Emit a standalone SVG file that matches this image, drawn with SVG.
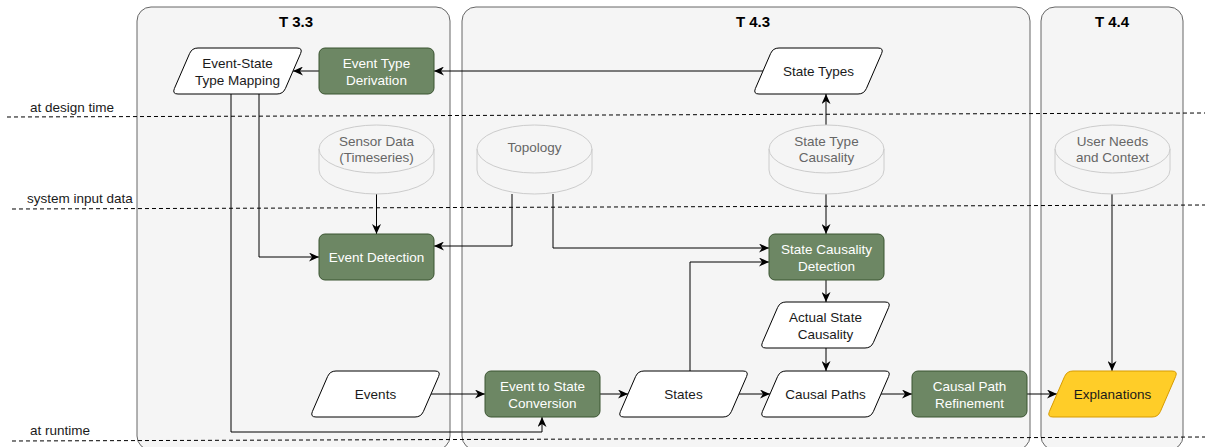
<svg xmlns="http://www.w3.org/2000/svg" xmlns:xlink="http://www.w3.org/1999/xlink" width="1205" height="447" viewBox="0 0 1205 447">
<style>
text{font-family:"Liberation Sans",Arial,sans-serif;font-size:13.5px;text-anchor:middle;fill:#1a1a1a}
.title{font-size:15px;font-weight:bold;fill:#000}
.lbl{text-anchor:start;fill:#1a1a1a}
.cont{fill:#f5f5f5;stroke:#666;stroke-width:1}
.dash{stroke:#000;stroke-width:1;stroke-dasharray:4 3;fill:none}
.proc{fill:#6d8764;stroke:#3a5431;stroke-width:1}
.proc-t{fill:#fff}
.data{fill:#fff;stroke:#000;stroke-width:1}
.yel{fill:#ffcd28;stroke:#d79b00;stroke-width:1}
.cyl{fill:#f5f5f5;stroke:#cccccc;stroke-width:1}
.cyl-t{fill:#666}
.edge{fill:none;stroke:#000;stroke-width:1}
</style>
<defs>
<marker id="arr" markerUnits="userSpaceOnUse" markerWidth="11" markerHeight="9" refX="10" refY="4.5" orient="auto">
<path d="M0,0 L10,4.5 L0,9 L3,4.5 Z" fill="#000"/>
</marker>
<path id="para" d="M26,0 L125,0 Q131,0 128.6,5.5 L113.4,40.5 Q111,46 105,46 L6,46 Q0,46 2.4,40.5 L17.6,5.5 Q20,0 26,0 Z"/>
<path id="cylb" d="M0,24 A57.5,24 0 0 1 115,24 L115,45 A57.5,24 0 0 1 0,45 Z"/>
<path id="cyli" d="M0,24 A57.5,24 0 0 0 115,24" fill="none"/>
</defs>

<g id="containers">
<rect id="t33" class="cont" x="137" y="7" width="313" height="443" rx="14"/>
<rect id="t43" class="cont" x="462" y="7" width="568" height="443" rx="14"/>
<rect id="t44" class="cont" x="1041" y="7" width="142" height="443" rx="14"/>
<text class="title" x="296" y="27">T 3.3</text>
<text class="title" x="753" y="27">T 4.3</text>
<text class="title" x="1112" y="27">T 4.4</text>
</g>

<g id="swimlanes">
<line class="dash" x1="7" y1="117" x2="1205" y2="113"/>
<line class="dash" x1="12" y1="209" x2="1205" y2="205"/>
<line class="dash" x1="12" y1="441" x2="1205" y2="437"/>
<text class="lbl" x="30" y="112">at design time</text>
<text class="lbl" x="27" y="203">system input data</text>
<text class="lbl" x="30" y="435">at runtime</text>
</g>

<g id="connectors">
<path class="edge" d="M763,71 L434,71" marker-end="url(#arr)"/>
<path class="edge" d="M319,71 L293,71" marker-end="url(#arr)"/>
<path class="edge" d="M826,125 L826,94" marker-end="url(#arr)"/>
<path class="edge" d="M376.5,194 L376.5,234" marker-end="url(#arr)"/>
<path class="edge" d="M259,94 L259,257 L319,257" marker-end="url(#arr)"/>
<path class="edge" d="M231,94 L231,432 L542,432 L542,417" marker-end="url(#arr)"/>
<path class="edge" d="M512,194 L512,246 L434,246" marker-end="url(#arr)"/>
<path class="edge" d="M553,194 L553,248 L769,248" marker-end="url(#arr)"/>
<path class="edge" d="M826,194 L826,234" marker-end="url(#arr)"/>
<path class="edge" d="M690,371 L690,262 L769,262" marker-end="url(#arr)"/>
<path class="edge" d="M826,280 L826,302" marker-end="url(#arr)"/>
<path class="edge" d="M826,348 L826,371" marker-end="url(#arr)"/>
<path class="edge" d="M431,394 L485,394" marker-end="url(#arr)"/>
<path class="edge" d="M599,394 L628,394" marker-end="url(#arr)"/>
<path class="edge" d="M739,394 L770,394" marker-end="url(#arr)"/>
<path class="edge" d="M881,394 L912,394" marker-end="url(#arr)"/>
<path class="edge" d="M1027,394 L1057,394" marker-end="url(#arr)"/>
<path class="edge" d="M1112,194 L1112,371" style="stroke:#555;stroke-width:1.5" marker-end="url(#arr)"/>
</g>

<g id="n-esm"><use href="#para" class="data" x="172" y="48"/><text x="237.5" y="68">Event-State</text><text x="237.5" y="85">Type Mapping</text></g>
<g id="n-etd"><rect class="proc" x="319" y="48" width="115" height="46" rx="6"/><text class="proc-t" x="376.5" y="68">Event Type</text><text class="proc-t" x="376.5" y="85">Derivation</text></g>
<g id="n-stypes"><use href="#para" class="data" x="753" y="48"/><text x="818.5" y="76">State Types</text></g>

<g id="n-sensor"><g transform="translate(319,125)"><use href="#cylb" class="cyl"/><use href="#cyli" class="cyl" style="fill:none"/></g><text class="cyl-t" x="376.5" y="146">Sensor Data</text><text class="cyl-t" x="376.5" y="162">(Timeseries)</text></g>
<g id="n-topo"><g transform="translate(477,125)"><use href="#cylb" class="cyl"/><use href="#cyli" class="cyl" style="fill:none"/></g><text class="cyl-t" x="534.5" y="151.5">Topology</text></g>
<g id="n-stc"><g transform="translate(769,125)"><use href="#cylb" class="cyl"/><use href="#cyli" class="cyl" style="fill:none"/></g><text class="cyl-t" x="826.5" y="146">State Type</text><text class="cyl-t" x="826.5" y="162">Causality</text></g>
<g id="n-user"><g transform="translate(1055,125)"><use href="#cylb" class="cyl"/><use href="#cyli" class="cyl" style="fill:none"/></g><text class="cyl-t" x="1112.5" y="146">User Needs</text><text class="cyl-t" x="1112.5" y="162">and Context</text></g>

<g id="n-evdet"><rect class="proc" x="319" y="234" width="115" height="46" rx="6"/><text class="proc-t" x="376.5" y="262">Event Detection</text></g>
<g id="n-scd"><rect class="proc" x="769" y="234" width="115" height="46" rx="6"/><text class="proc-t" x="826.5" y="253.5">State Causality</text><text class="proc-t" x="826.5" y="270.5">Detection</text></g>
<g id="n-asc"><use href="#para" class="data" x="760" y="302"/><text x="825.5" y="322">Actual State</text><text x="825.5" y="339">Causality</text></g>

<g id="n-events"><use href="#para" class="data" x="310" y="371"/><text x="375.5" y="399">Events</text></g>
<g id="n-etsc"><rect class="proc" x="485" y="371" width="115" height="46" rx="6"/><text class="proc-t" x="542.5" y="391">Event to State</text><text class="proc-t" x="542.5" y="408">Conversion</text></g>
<g id="n-states"><use href="#para" class="data" x="618" y="371"/><text x="683.5" y="399">States</text></g>
<g id="n-cpaths"><use href="#para" class="data" x="760" y="371"/><text x="825.5" y="399">Causal Paths</text></g>
<g id="n-cpr"><rect class="proc" x="912" y="371" width="115" height="46" rx="6"/><text class="proc-t" x="969.5" y="391">Causal Path</text><text class="proc-t" x="969.5" y="408">Refinement</text></g>
<g id="n-expl"><use href="#para" class="yel" x="1047" y="371"/><text x="1112.5" y="399">Explanations</text></g>
</svg>
